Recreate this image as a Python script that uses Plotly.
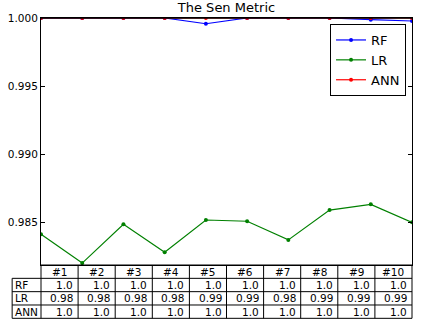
import plotly.graph_objects as go

# ---- data ----
categories = ["#1", "#2", "#3", "#4", "#5", "#6", "#7", "#8", "#9", "#10"]
rf_values = [1.0, 1.0, 1.0, 1.0, 0.99958, 1.0, 1.0, 1.0, 0.99988, 0.99978]
lr_values = [0.98414, 0.98202, 0.98487, 0.98282, 0.98518, 0.98509, 0.98372, 0.98591, 0.98633, 0.98501]
ann_values = [1.0, 1.0, 1.0, 1.0, 1.0, 1.0, 1.0, 1.0, 1.0, 1.0]
series_names = ["RF", "LR", "ANN"]
y_ticks = [0.985, 0.990, 0.995, 1.000]

colors = {"RF": "#0000ff", "LR": "#008000", "ANN": "#ff0000"}
series = {"RF": rf_values, "LR": lr_values, "ANN": ann_values}

FONT = "DejaVu Sans"
W_PX, H_PX = 421, 325
L, R, T, B = 40, 413, 18, 265
PW, PH = R - L, B - T


def px2x(px):
    return (px - L) / PW


def py2y(py):
    return (B - py) / PH


fig = go.Figure()
for name in series_names:
    fig.add_trace(go.Scatter(
        x=categories, y=series[name], name=name, mode="lines+markers",
        line=dict(color=colors[name], width=1.2),
        marker=dict(color=colors[name], size=4),
    ))

# ---- table under the plot ----
shapes = []
annotations = []
ncol = len(categories)
col_w = PW / ncol
row_h = 13.33
row_tops = [B + i * row_h for i in range(5)]
lab_left = 11
line = dict(color="black", width=1)

# top frame drawn above the traces (hides lines lying on the top edge)
shapes.append(dict(type="line", xref="paper", yref="paper", x0=0, x1=1, y0=1, y1=1,
                   line=dict(color="black", width=1.5), layer="above"))

shapes.append(dict(type="line", xref="paper", yref="paper", x0=px2x(L), x1=px2x(R),
                   y0=py2y(row_tops[0]), y1=py2y(row_tops[0]), line=line))
for i in range(1, 5):
    shapes.append(dict(type="line", xref="paper", yref="paper", x0=px2x(lab_left), x1=px2x(R),
                       y0=py2y(row_tops[i]), y1=py2y(row_tops[i]), line=line))
for j in range(ncol + 1):
    xp = L + j * col_w
    shapes.append(dict(type="line", xref="paper", yref="paper", x0=px2x(xp), x1=px2x(xp),
                       y0=py2y(row_tops[0]), y1=py2y(row_tops[4]), line=line))
shapes.append(dict(type="line", xref="paper", yref="paper", x0=px2x(lab_left), x1=px2x(lab_left),
                   y0=py2y(row_tops[1]), y1=py2y(row_tops[4]), line=line))

tfont = dict(family=FONT, size=10.5, color="black")
for j, c in enumerate(categories):
    annotations.append(dict(text=c, xref="paper", yref="paper", showarrow=False,
                            x=px2x(L + (j + 0.5) * col_w), y=py2y(row_tops[0] + row_h / 2),
                            xanchor="center", yanchor="middle", font=tfont))
for i, name in enumerate(series_names):
    yc = py2y(row_tops[i + 1] + row_h / 2)
    annotations.append(dict(text=name, xref="paper", yref="paper", showarrow=False,
                            x=px2x(lab_left + 1), y=yc, xanchor="left", yanchor="middle", font=tfont))
    for j, v in enumerate(series[name]):
        annotations.append(dict(text=str(round(v, 2)), xref="paper", yref="paper", showarrow=False,
                                x=px2x(L + (j + 1) * col_w - 3), y=yc,
                                xanchor="right", yanchor="middle", font=tfont))

fig.update_layout(
    width=W_PX, height=H_PX,
    margin=dict(l=L, r=W_PX - R, t=T, b=H_PX - B, pad=0),
    paper_bgcolor="white", plot_bgcolor="white",
    font=dict(family=FONT, color="black"),
    title=dict(text="The Sen Metric", x=0.5, xref="paper", xanchor="center",
               y=1 - 7.5 / H_PX, yref="container", yanchor="middle",
               font=dict(family=FONT, size=13, color="black")),
    xaxis=dict(type="category", range=[0, ncol - 1], showticklabels=False, ticks="",
               showgrid=False, zeroline=False, showline=True, linecolor="black",
               linewidth=1, mirror=True),
    yaxis=dict(range=[0.98188, 1.0], tickvals=y_ticks, ticktext=[f"{t:.3f}" for t in y_ticks],
               ticks="inside", ticklen=4, tickcolor="black", showgrid=False, zeroline=False,
               showline=True, linecolor="black", linewidth=1, mirror="ticks",
               tickfont=dict(family=FONT, size=10.5, color="black")),
    legend=dict(x=px2x(407), y=py2y(24), xanchor="right", yanchor="top",
                bgcolor="white", bordercolor="black", borderwidth=1, itemwidth=30,
                font=dict(family=FONT, size=13, color="black")),
    shapes=shapes, annotations=annotations,
)

fig.write_html("out.html", config={"displayModeBar": False},
               post_script="document.body.style.margin='0';document.body.style.overflow='hidden';")
